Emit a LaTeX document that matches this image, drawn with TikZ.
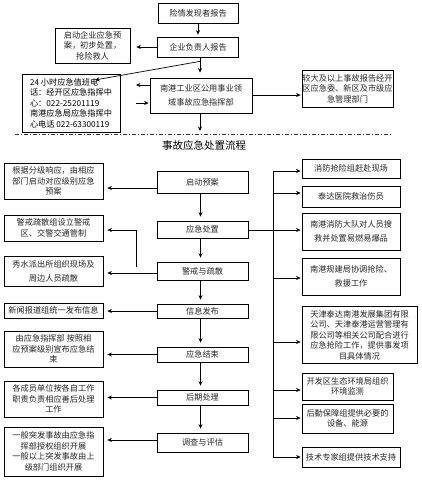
\documentclass[tikz,border=0pt]{standalone}
\usepackage{fontspec}
\newfontfamily\cjk{Noto Sans CJK SC}
\usetikzlibrary{arrows.meta,calc}
\begin{document}
\begin{tikzpicture}[x=1pt,y=-1pt,
  box/.style={draw, line width=0.7pt, inner sep=0pt, align=center, text=black!85,
    font=\cjk\fontsize{8.2}{10.5}\selectfont},
  wide/.style={font=\cjk\fontsize{8.2}{14}\selectfont},
  lbox/.style={box, minimum width=99},
  cbox/.style={box, minimum width=91},
  arr/.style={line width=0.7pt, -{Stealth[length=4.5pt,width=4pt]}},
  ln/.style={line width=0.7pt}]
\fill[white] (0,0) rectangle (422,481);
\useasboundingbox (0,0) rectangle (422,481);
% ---------- top part ----------
\node[box, minimum width=80, minimum height=20] (r1) at (198,13) {险情发现者报告};
\node[box, minimum width=75, minimum height=35] (a1) at (92.5,45.5) {启动企业应急预\\案，初步处置，\\抢险救人};
\node[box, minimum width=81, minimum height=20] (r2) at (198,47) {企业负责人报告};
\node[box, minimum width=98, minimum height=58, align=left, text=black] (ph) at (71,103)
  {24 小时应急值班电\\话：经开区应急指挥中\\心：022-25201119\\南港应急局应急指挥中\\心电话 022-63300119};
\node[box, wide, minimum width=102, minimum height=35] (cmd) at (201,95.5) {南港工业区公用事业领\\域事故应急指挥部};
\node[box, minimum width=91, minimum height=37] (big) at (347.5,88.5) {较大及以上事故报告经开\\区应急委、新区及市级应\\急管理部门};
\draw[arr, shorten >=2pt] (r1) -- (r2);
\draw[arr, shorten >=6pt] (r2.west) -- (r2.west -| a1.east);
\coordinate (j1) at ($(r2.south)+(2,4)$);
\draw[ln] (r2.south -| j1) -- (j1);
\coordinate (phtip) at (95,80);
\draw[arr] (j1) -- (phtip);
\draw[arr, shorten >=5pt] (j1) -- (j1 |- cmd.north);
\coordinate (p1) at (136,85);
\coordinate (p2) at (136,103);
\draw[arr] (cmd.west |- p1) -- (p1);
\draw[arr, shorten >=1pt] (p2) -- (cmd.west |- p2);
\coordinate (t0) at (200,131);
\draw[arr] (cmd.south -| t0) -- (t0);
\draw[arr, shorten >=1pt] (cmd.east |- 0,95) -- (big.west |- 0,95);
\coordinate (d1) at (15,134);
\coordinate (d2) at (392,134);
\draw[line width=0.7pt, black!80, dash pattern=on 4pt off 2pt on 1pt off 2pt] (d1) -- (d2);
\node[font=\cjk\fontsize{10.5}{12}\selectfont] (title) at (204,146) {事故应急处置流程};
% ---------- left column ----------
\node[lbox, minimum height=36] (L1) at (53.5,181) {根据分级响应，由相应\\部门启动对应级别应急\\预案};
\node[lbox, minimum height=26] (L2) at (53.5,228) {警戒疏散组设立警戒\\区、交警交通管制};
\node[lbox, wide, minimum height=30] (L3) at (53.5,271) {秀水派出所组织现场及\\周边人员疏散};
\node[lbox, minimum height=15] (L4) at (53.5,310.5) {新闻报道组统一发布信息};
\node[lbox, minimum height=36] (L5) at (53.5,349) {由应急指挥部 按照相\\应预案级别宣布应急结\\束};
\node[lbox, minimum height=36] (L6) at (53.5,399) {各成员单位按各自工作\\职责负责相应善后处理\\工作};
\node[lbox, minimum height=49] (L7) at (53.5,451.5) {一般突发事故由应急指\\挥部授权组织开展\\一般以上突发事故由上\\级部门组织开展};
% ---------- centre column ----------
\node[cbox, minimum height=22] (C1) at (202.5,182) {启动预案};
\node[cbox, minimum height=17] (C2) at (202.5,229.5) {应急处置};
\node[cbox, minimum height=18] (C3) at (202.5,271) {警戒与疏散};
\node[cbox, minimum height=14] (C4) at (202.5,311) {信息发布};
\node[cbox, minimum height=15] (C5) at (202.5,354.5) {应急结束};
\node[cbox, minimum height=15] (C6) at (202.5,397.5) {后期处理};
\node[cbox, minimum height=19] (C7) at (202.5,442.5) {调查与评估};
\foreach \a/\b in {C1/C2,C2/C3,C3/C4,C4/C5,C5/C6,C6/C7}
  \draw[arr, shorten >=4pt] ($(\a.south)+(-2,0)$) -- ($(\b.north)+(-2,0)$);
\draw[arr, shorten >=4pt] (C1.west |- 0,188) -- (L1.east |- 0,188);
\coordinate (k2) at (136,267);
\draw[arr, shorten >=4pt] (k2) |- (L2.east |- 0,230);
\draw[arr, shorten >=4pt] (C3.west |- 0,273) -- (L3.east |- 0,273);
\draw[arr, shorten >=4pt] (C4.west) -- (C4.west -| L4.east);
\draw[arr, shorten >=4pt] (C5.west) -- (C5.west -| L5.east);
\draw[arr, shorten >=4pt] (C6.west) -- (C6.west -| L6.east);
\draw[arr, shorten >=4pt] (C7.west |- 0,440) -- (L7.east |- 0,440);
% ---------- right column ----------
\node[box, minimum width=98, minimum height=19] (R1) at (351,168.5) {消防抢险组赶赴现场};
\node[box, minimum width=98, minimum height=21] (R2) at (351,196.5) {泰达医院救治伤员};
\node[box, wide, minimum width=98, minimum height=37] (R3) at (351,231.5) {南港消防大队对人员搜\\救并处置易燃易爆品};
\node[box, wide, minimum width=98, minimum height=37] (R4) at (351,276.5) {南港规建局协调抢险、\\救援工作};
\node[box, minimum width=115, minimum height=57] (R5) at (359.5,335) {天津泰达南港发展集团有限\\公司、天津泰港运营管理有\\限公司等相关公司配合进行\\应急抢险工作，提供事发项\\目具体情况};
\node[box, minimum width=91, minimum height=27] (R6) at (347.5,386.5) {开发区生态环境局组织\\环境监测};
\node[box, minimum width=91, minimum height=29] (R7) at (347.5,418.5) {后勤保障组提供必要的\\设备、能源};
\node[box, minimum width=98, minimum height=20] (R8) at (351,457) {技术专家组提供技术支持};
\coordinate (bt) at (273,171);
\coordinate (bb) at (273,457);
\draw[ln] (bt) -- (bb);
\draw[arr, shorten >=1pt] (bt) -- (bt -| R1.west);
\draw[arr, shorten >=1pt] (bt |- 0,193) -- (R2.west |- 0,193);
\draw[arr, shorten >=1pt] (C2.east |- 0,230) -- (R3.west |- 0,230);
\draw[arr, shorten >=1pt] (bt |- 0,278) -- (R4.west |- 0,278);
\draw[arr, shorten >=1pt] (bt |- 0,342) -- (R5.west |- 0,342);
\draw[arr, shorten >=1pt] (bt |- 0,390) -- (R6.west |- 0,390);
\draw[arr, shorten >=1pt] (bt |- 0,418) -- (R7.west |- 0,418);
\draw[arr, shorten >=1pt] (bb) -- (bb -| R8.west);
\end{tikzpicture}
\end{document}
